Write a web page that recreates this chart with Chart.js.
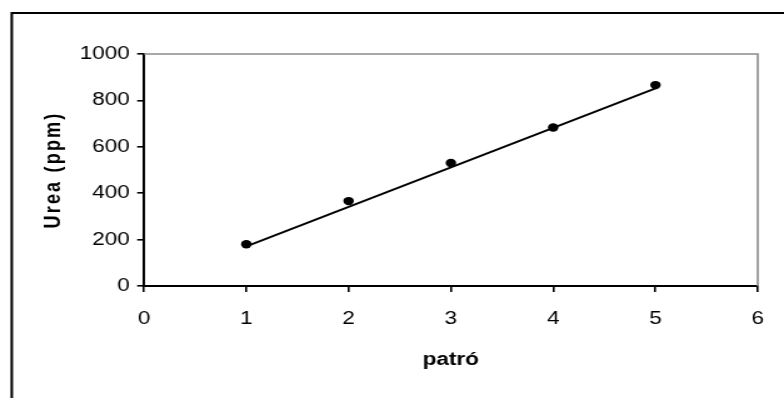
<!DOCTYPE html>
<html>
<head>
<meta charset="utf-8">
<script src="https://cdn.jsdelivr.net/npm/chart.js@4/dist/chart.umd.min.js"></script>
<style>
  html, body { margin: 0; padding: 0; background: #fff; overflow: hidden; }
  #wrap { width: 784px; height: 398px; overflow: hidden; }
  /* the chart is laid out on a narrower canvas and widened to the page */
  canvas { display: block; transform: scaleX(1.2504); transform-origin: 0 0; }
</style>
</head>
<body>
<div id="wrap"><canvas id="c" width="627" height="398"></canvas></div>
<script>
// standards (patró) and measured urea
const patro = [1, 2, 3, 4, 5];
const urea = [180, 366, 530, 683, 866];
// fitted calibration line, end points
const trendPatro = [1, 5];
const trendUrea = [171, 852];
// axis ticks
const xTicks = [0, 1, 2, 3, 4, 5, 6];
const yTicks = [0, 200, 400, 600, 800, 1000];

const FONT = '"Liberation Sans", Arial, Helvetica, sans-serif';

const framePlugin = {
  id: 'frame',
  beforeDraw(chart) {
    const c = chart.ctx;
    c.save();
    c.fillStyle = '#fff';
    c.fillRect(0, 0, chart.width, chart.height);
    c.strokeStyle = '#000';
    c.lineWidth = 2;
    c.beginPath();
    c.moveTo(9.4, chart.height + 5);
    c.lineTo(9.4, 13);
    c.lineTo(chart.width + 5, 13);
    c.stroke();
    c.restore();
  },
  beforeDatasetsDraw(chart) {
    const a = chart.chartArea;
    const c = chart.ctx;
    c.save();
    c.strokeStyle = '#8c8c8c';
    c.lineWidth = 1.6;
    c.beginPath();
    c.moveTo(a.left, a.top);
    c.lineTo(a.right, a.top);
    c.lineTo(a.right, a.bottom);
    c.stroke();
    c.restore();
  },
  afterUpdate(chart) {
    const y = chart.scales.y;
    if (y && !y._spacedTitle) {
      const orig = y.drawTitle.bind(y);
      y.drawTitle = function () {
        const c = this.ctx;
        c.save();
        c.letterSpacing = '2.2px';
        orig();
        c.restore();
      };
      y._spacedTitle = true;
    }
  }
};

new Chart(document.getElementById('c'), {
  type: 'scatter',
  data: {
    datasets: [
      {
        label: 'Urea',
        data: patro.map((x, i) => ({ x: x, y: urea[i] })),
        pointRadius: 4.2,
        pointBackgroundColor: '#000',
        pointBorderColor: '#000',
        pointBorderWidth: 0,
        showLine: false,
        order: 0
      },
      {
        label: 'Lineal',
        type: 'line',
        data: trendPatro.map((x, i) => ({ x: x, y: trendUrea[i] })),
        borderColor: '#000',
        borderWidth: 1.9,
        pointRadius: 0,
        fill: false,
        order: 1
      }
    ]
  },
  options: {
    responsive: false,
    animation: false,
    devicePixelRatio: 1,
    layout: { padding: { left: 0, right: 11.2, top: 54, bottom: 0 } },
    plugins: { legend: { display: false }, tooltip: { enabled: false } },
    scales: {
      x: {
        type: 'linear',
        min: 0,
        max: 6,
        afterBuildTicks: s => { s.ticks = xTicks.map(v => ({ value: v })); },
        afterFit: s => { s.height = 112; },
        border: { display: true, color: '#000', width: 2 },
        grid: { drawOnChartArea: false, drawTicks: true, tickLength: 6, color: '#000', lineWidth: 1.6 },
        ticks: { color: '#000', padding: 16, font: { family: FONT, size: 18 }, maxRotation: 0, callback: v => String(v) },
        title: {
          display: true,
          text: 'patró',
          color: '#000',
          font: { family: FONT, size: 18, weight: 'bold' },
          padding: { top: 0, bottom: 27 }
        }
      },
      y: {
        type: 'linear',
        min: 0,
        max: 1000,
        afterBuildTicks: s => { s.ticks = yTicks.map(v => ({ value: v })); },
        afterFit: s => { s.width = 115.2; },
        border: { display: true, color: '#000', width: 2 },
        grid: { drawOnChartArea: false, drawTicks: true, tickLength: 5.5, color: '#000', lineWidth: 1.6 },
        ticks: { color: '#000', padding: 6, font: { family: FONT, size: 18 }, callback: v => String(v) },
        title: {
          display: true,
          text: 'Urea (ppm)',
          color: '#000',
          font: { family: FONT, size: 18, weight: 'bold' },
          padding: { top: 32, bottom: 0 }
        }
      }
    }
  },
  plugins: [framePlugin]
});
</script>
</body>
</html>
